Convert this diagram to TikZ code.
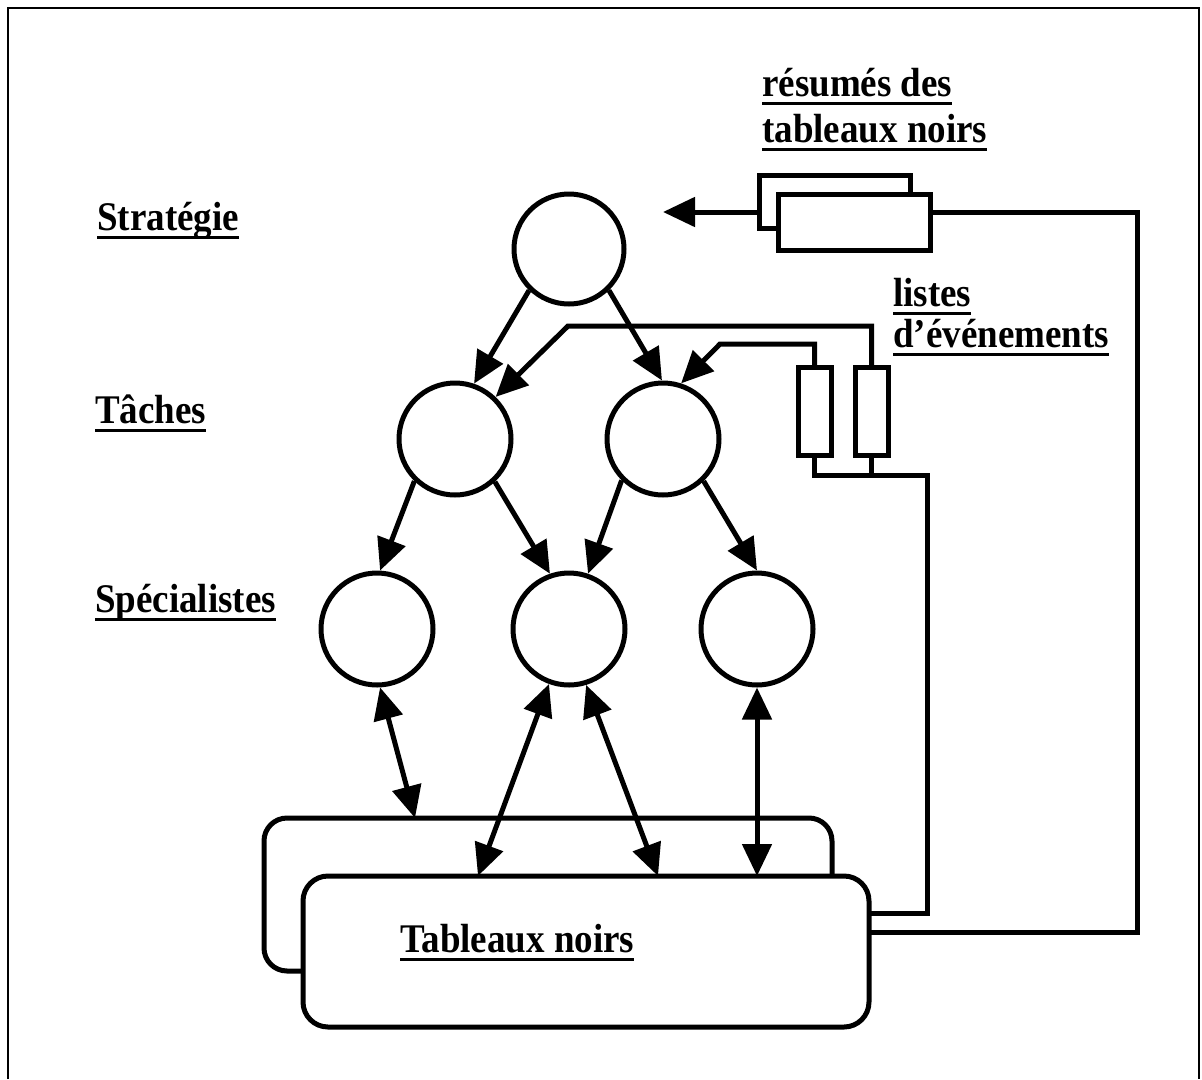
\documentclass[tikz,border=0pt]{standalone}
\usepackage{fontspec}
\usepackage{graphicx}
\setmainfont{Liberation Serif}
\usetikzlibrary{arrows.meta}
\newsavebox\ulsave
\newcommand\ulx[1]{\sbox\ulsave{\scalebox{1}[1.1]{#1}}\rlap{\usebox\ulsave}\rule[-8.5pt]{\wd\ulsave}{3pt}}
\tikzset{
  unit/.style={circle, draw, line width=5pt, minimum size=112pt, inner sep=0pt},
  store/.style={rectangle, draw, line width=5pt, inner sep=0pt, outer sep=0pt, fill=white},
  lbl/.style={inner sep=0pt, anchor=base west, font=\fontsize{37}{44}\selectfont\bfseries},
  arr/.style={line width=5pt, -{Triangle[length=32pt,width=29pt]}},
  biarr/.style={line width=5pt, {Triangle[length=32pt,width=29pt]}-{Triangle[length=32pt,width=29pt]}},
  wire/.style={line width=5pt},
  frame/.style={line width=2pt},
}
\begin{document}
\begin{tikzpicture}[x=1pt,y=-1pt]
\useasboundingbox (0,0) rectangle (1202,1079);
% frame
\draw[frame] (8,1079) -- (8,8) -- (1199,8) -- (1199,1079);

% labels
\node[lbl] (lstrat) at (97,230) {\ulx{Stratégie}};
\node[lbl] (ltach) at (95,423) {\ulx{Tâches}};
\node[lbl] (lspec) at (95,612) {\ulx{Spécialistes}};
\node[lbl] (lres1) at (762,96) {\ulx{résumés des}};
\node[lbl] (lres2) at (762,142) {\ulx{tableaux noirs}};
\node[lbl] (llis1) at (893,306) {\ulx{listes}};
\node[lbl] (llis2) at (893,347) {\ulx{d’événements}};

% circles
\node[unit, minimum size=110pt] (strat) at (569,249) {};
\node[unit] (tl) at (455,439) {};
\node[unit] (tr) at (663,439) {};
\node[unit] (sl) at (377,629) {};
\node[unit] (sm) at (569,629) {};
\node[unit] (sr) at (757,629) {};

% blackboards
\node[store, fill=none, rounded corners=23pt, minimum width=568pt, minimum height=153pt] (tbb) at (548,894.5) {};
\node[store, rounded corners=25pt, minimum width=566pt, minimum height=151pt] (tbf) at (586,951.5) {};
\node[lbl] (ltab) at (400,952) {\ulx{Tableaux noirs}};

% summaries
\node[store, minimum width=151pt, minimum height=53pt] (rsb) at (834.5,201.5) {};
\node[store, minimum width=152pt, minimum height=56pt] (rsf) at (854,222) {};

% event lists
\node[store, minimum width=33pt, minimum height=88pt] (llist) at (814.5,411) {};
\node[store, minimum width=33pt, minimum height=88pt] (rlist) at (871.5,411) {};

% coordinates
\coordinate (ry) at (663,212);
\coordinate (c1) at (1137,212);
\coordinate (c2) at (1137,932);
\coordinate (j1) at (927,475);
\coordinate (j2) at (927,913);
\coordinate (k1) at (568,326);
\coordinate (k2) at (720,344);
\coordinate (b1) at (415,818);
\coordinate (b2) at (478,876);
\coordinate (b3) at (658,876);

% hierarchy arrows
\draw[arr] (strat.226) -- (tl.71);
\draw[arr] (strat.314) -- (tr.91);
\draw[arr] (tl.226) -- (sl.87);
\draw[arr] (tl.313) -- (sm.109);
\draw[arr] (tr.225) -- (sm.71);
\draw[arr] (tr.314) -- (sr.90);

% specialists <-> blackboards
\draw[biarr] (sl.273) -- (b1);
\draw[biarr] (sm.250) -- (b2);
\draw[biarr] (sm.287) -- (b3);
\draw[biarr] (sr.270) -- (sr.270 |- tbf.north);

% summaries wiring
\draw[arr] (rsb.west |- ry) -- (ry);
\draw[wire] (rsf.east |- c1) -- (c1) -- (c2) -- (tbf.east |- c2);

% event list wiring
\draw[wire] (llist.south) |- (j1) -- (j2) -- (tbf.east |- j2);
\draw[wire] (rlist.south) -- (rlist.south |- j1);
\draw[arr] (rlist.north) |- (k1) -- (tl.46);
\draw[arr] (llist.north) |- (k2) -- (tr.72);
\end{tikzpicture}
\end{document}
